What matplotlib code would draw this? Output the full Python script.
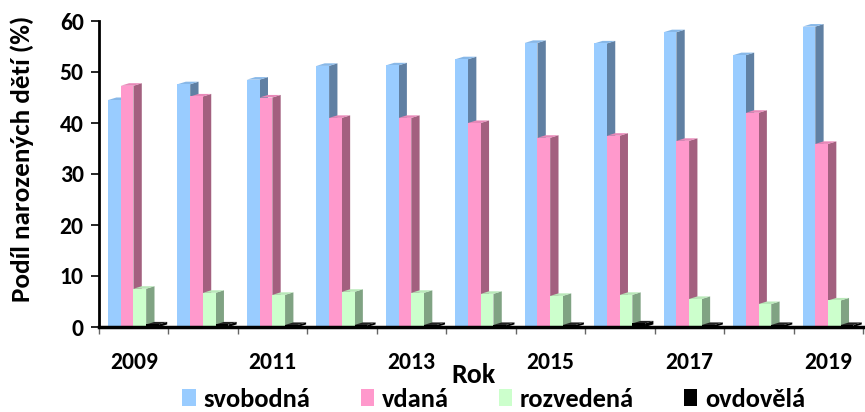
import numpy as np
import matplotlib
matplotlib.use("Agg")
import matplotlib.pyplot as plt
from matplotlib.patches import Polygon, Patch

plt.rcParams['font.family'] = ['Carlito', 'DejaVu Sans']

# data
years = [2009, 2010, 2011, 2012, 2013, 2014, 2015, 2016, 2017, 2018, 2019]
svobodna = [44.5, 47.6, 48.5, 51.2, 51.3, 52.5, 55.7, 55.6, 57.8, 53.3, 58.9]
vdana = [47.3, 45.2, 45.0, 41.0, 41.0, 40.0, 37.1, 37.5, 36.5, 42.0, 35.9]
rozvedena = [7.5, 6.7, 6.3, 6.9, 6.7, 6.5, 6.1, 6.3, 5.5, 4.5, 5.2]
ovdovela = [0.5, 0.5, 0.4, 0.4, 0.4, 0.4, 0.4, 0.7, 0.4, 0.4, 0.4]

series_names = ['svobodná', 'vdaná', 'rozvedená', 'ovdovělá']
front_colors = ['#99CCFF', '#FF99CC', '#CCFFCC', '#000000']
side_colors = ['#6080A3', '#A3607F', '#80A383', '#000000']
top_colors = ['#88B8E8', '#E888B8', '#B8E8B8', '#222222']

# pseudo-3D geometry (category units / value units)
offset = 0.13
width = 0.183
dx = 0.12
dy = 0.5

fig = plt.figure(figsize=(8.65, 4.12), dpi=100)
ax = fig.add_axes([99 / 865, 85 / 412, (863 - 99) / 865, 306 / 412])

x = np.arange(len(years))
series = [svobodna, vdana, rozvedena, ovdovela]
for j, vals in enumerate(series):
    x0 = x + offset + j * width
    for xi, h in zip(x0, vals):
        x1 = xi + width
        side = [(x1, 0), (x1 + dx, dy), (x1 + dx, h + dy), (x1, h)]
        top = [(xi, h), (xi + dx, h + dy), (x1 + dx, h + dy), (x1, h)]
        ax.add_patch(Polygon(side, closed=True, facecolor=side_colors[j],
                             edgecolor='none', zorder=2 + 2 * j))
        ax.add_patch(Polygon(top, closed=True, facecolor=top_colors[j],
                             edgecolor='none', zorder=2 + 2 * j))
    ax.bar(x0, vals, width=width, align='edge', color=front_colors[j],
           edgecolor='none', zorder=3 + 2 * j)

ax.set_xlim(0, len(years))
ax.set_ylim(0, 60)

ax.set_yticks(range(0, 61, 10))
ax.set_yticklabels([str(v) for v in range(0, 61, 10)], fontsize=17, fontweight='bold')
ax.tick_params(axis='y', direction='out', length=6, width=1.2, color='black', pad=5)

# boundaries get tick marks, every other category gets a label
ax.set_xticks(np.arange(len(years) + 1))
ax.set_xticklabels([])
ax.tick_params(axis='x', which='major', direction='out', length=5, width=1, color='#666666')
ax.set_xticks(x[::2] + 0.5, minor=True)
ax.set_xticklabels([str(y) for y in years[::2]], minor=True, fontsize=17, fontweight='bold')
ax.tick_params(axis='x', which='minor', length=0, pad=18)

for s in ['top', 'right']:
    ax.spines[s].set_visible(False)
ax.spines['left'].set_linewidth(2)
ax.spines['bottom'].set_linewidth(2.5)
ax.spines['left'].set_zorder(20)
ax.spines['bottom'].set_zorder(20)

fig.text(0.026, 0.615, 'Podíl narozených dětí (%)', rotation=90, ha='center', va='center',
         fontsize=19.5, fontweight='bold')
fig.text(0.547, 0.09, 'Rok', ha='center', va='center', fontsize=20, fontweight='bold')

handles = [Patch(facecolor=c, edgecolor='none') for c in front_colors]
fig.legend(handles, series_names, loc='center', bbox_to_anchor=(0.571, 0.03), ncol=4,
           frameon=False, prop={'size': 19, 'weight': 'bold'}, handlelength=0.5,
           handleheight=0.6, handletextpad=0.3, columnspacing=1.9, borderaxespad=0,
           borderpad=0)

fig.savefig('out.png', dpi=100)
